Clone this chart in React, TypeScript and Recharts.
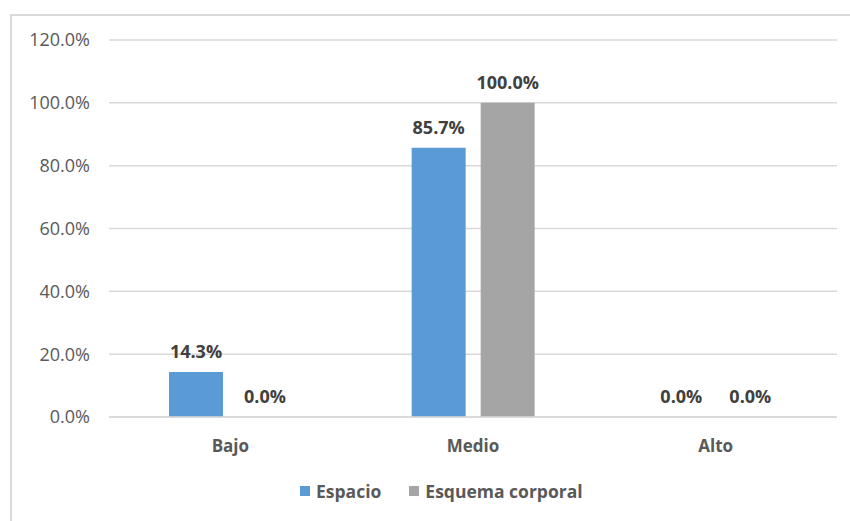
import React from 'react';
import { BarChart, Bar, XAxis, YAxis, CartesianGrid, LabelList } from 'recharts';

const categories = ['Bajo', 'Medio', 'Alto'];
const espacio = [14.3, 85.7, 0.0];
const esquemaCorporal = [0.0, 100.0, 0.0];
const yTicks = [0, 20, 40, 60, 80, 100, 120];
const seriesNames = ['Espacio', 'Esquema corporal'];
const seriesColors = ['#5B9BD5', '#A5A5A5'];

const data = categories.map((c, i) => ({
  name: c,
  espacio: espacio[i],
  esquema: esquemaCorporal[i],
}));

const FONT = '"Open Sans", sans-serif';
const pct = (v: number) => `${Number(v).toFixed(1)}%`;

// Value label drawn above each bar, including bars of zero height.
const ValueLabel = (props: any) => {
  const { x, y, width, value } = props;
  if (x == null || y == null) return null;
  return (
    <text
      x={Number(x) + Number(width) / 2}
      y={Number(y) - 14}
      textAnchor="middle"
      fill="#404040"
      fontSize={18}
      fontWeight={700}
      fontFamily={FONT}
    >
      {pct(value)}
    </text>
  );
};

export default function App() {
  return (
    <div
      style={{
        position: 'fixed',
        left: 0,
        top: 0,
        width: 850,
        height: 521,
        overflow: 'hidden',
        background: '#fff',
        fontFamily: FONT,
      }}
    >
      <div
        style={{
          position: 'absolute',
          left: 10,
          top: 14,
          width: 900,
          height: 600,
          border: '2px solid #D9D9D9',
          boxSizing: 'border-box',
        }}
      />
      <div style={{ position: 'absolute', left: 0, top: 0 }}>
        <BarChart
          width={850}
          height={521}
          data={data}
          margin={{ top: 40, right: 13, bottom: 74, left: 0 }}
          barSize={54}
          barGap={15}
        >
          <CartesianGrid vertical={false} stroke="#D9D9D9" strokeWidth={1.5} />
          <XAxis
            dataKey="name"
            height={30}
            axisLine={{ stroke: '#D9D9D9', strokeWidth: 1.5 }}
            tickLine={false}
            tickSize={0}
            tickMargin={23}
            tick={{ fill: '#595959', fontSize: 17, fontWeight: 700, fontFamily: FONT }}
          />
          <YAxis
            width={109}
            domain={[0, 120]}
            ticks={yTicks}
            tickFormatter={pct}
            axisLine={false}
            tickLine={false}
            tickSize={0}
            tickMargin={19}
            tick={{ fill: '#595959', fontSize: 18, fontFamily: FONT }}
          />
          <Bar
            dataKey="espacio"
            name={seriesNames[0]}
            fill={seriesColors[0]}
            minPointSize={0.01}
            isAnimationActive={false}
          >
            <LabelList dataKey="espacio" content={ValueLabel} />
          </Bar>
          <Bar
            dataKey="esquema"
            name={seriesNames[1]}
            fill={seriesColors[1]}
            minPointSize={0.01}
            isAnimationActive={false}
          >
            <LabelList dataKey="esquema" content={ValueLabel} />
          </Bar>
        </BarChart>
      </div>
      <div
        style={{
          position: 'absolute',
          left: 300,
          top: 479,
          display: 'flex',
          alignItems: 'center',
          fontSize: 17.5,
          fontWeight: 700,
          color: '#595959',
          lineHeight: '24px',
          whiteSpace: 'nowrap',
        }}
      >
        {seriesNames.map((n, i) => (
          <div key={n} style={{ display: 'flex', alignItems: 'center', marginRight: 28 }}>
            <span
              style={{ width: 10, height: 10, background: seriesColors[i], display: 'inline-block', marginRight: 6 }}
            />
            <span>{n}</span>
          </div>
        ))}
      </div>
    </div>
  );
}
